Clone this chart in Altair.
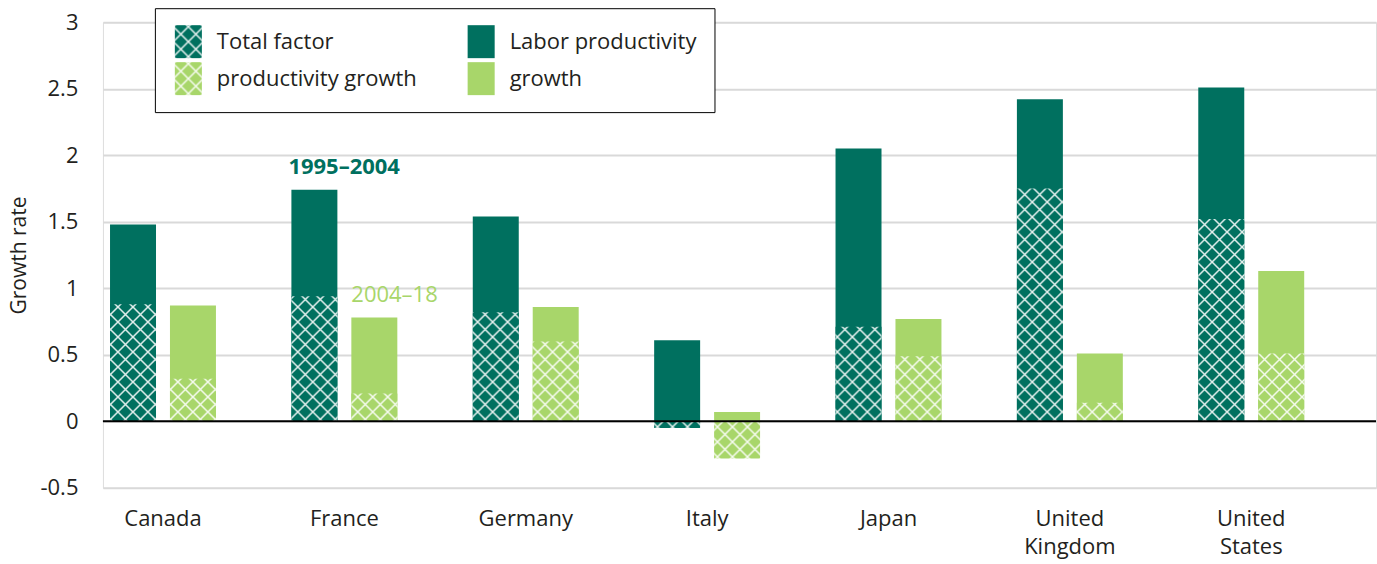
import altair as alt
import pandas as pd
import jinja2

# ---------------- data ----------------
countries = ["Canada", "France", "Germany", "Italy", "Japan", "United Kingdom", "United States"]
periods = ["1995–2004", "2004–18"]
lp_1995_2004 = [1.48, 1.74, 1.54, 0.61, 2.05, 2.42, 2.51]
tfp_1995_2004 = [0.88, 0.94, 0.82, -0.05, 0.71, 1.75, 1.52]
lp_2004_18 = [0.87, 0.78, 0.86, 0.07, 0.77, 0.51, 1.13]
tfp_2004_18 = [0.32, 0.21, 0.60, -0.28, 0.49, 0.14, 0.51]
y_ticks = [-0.5, 0, 0.5, 1, 1.5, 2, 2.5, 3]

DARK = "#00705f"
LIGHT = "#a8d66a"
TEXT = "#231f20"
FONT = "Open Sans"

rows = []
for i, c in enumerate(countries):
    rows.append(dict(country=c, period=periods[0], measure="lp", value=lp_1995_2004[i], key="lp_dark"))
    rows.append(dict(country=c, period=periods[1], measure="lp", value=lp_2004_18[i], key="lp_light"))
    rows.append(dict(country=c, period=periods[0], measure="tfp", value=tfp_1995_2004[i], key="tfp_dark"))
    rows.append(dict(country=c, period=periods[1], measure="tfp", value=tfp_2004_18[i], key="tfp_light"))
df = pd.DataFrame(rows)

ann = pd.DataFrame({
    "country": ["France", "France"],
    "period": periods,
    "value": [lp_1995_2004[1], lp_2004_18[1]],
    "label": periods,
})
zero = pd.DataFrame({"value": [0]})

x_enc = alt.X(
    "country:N", sort=countries,
    scale=alt.Scale(paddingInner=0.416, paddingOuter=0.2175, align=0.09),
    axis=alt.Axis(title=None, labelAngle=0, ticks=False, domain=False,
                  labelFontSize=22, labelColor=TEXT, labelFont=FONT,
                  labelPadding=21, labelLineHeight=28,
                  labelExpr="split(datum.value, ' ')"),
)
xo_enc = alt.XOffset("period:N", sort=periods, scale=alt.Scale(paddingInner=0.233, paddingOuter=0))
y_enc = alt.Y(
    "value:Q", scale=alt.Scale(domain=[-0.5, 3], nice=False, zero=False),
    axis=alt.Axis(values=y_ticks, title="Growth rate", labelExpr="'' + datum.value",
                  grid=True, gridColor="#d9d9d9", gridWidth=2, domain=False, ticks=False,
                  labelPadding=25, labelFontSize=22, labelColor=TEXT, labelFont=FONT,
                  titleFontSize=21, titleFont=FONT, titleColor=TEXT, titleFontWeight="normal",
                  titlePadding=10),
)

lbl_expr = ("datum.value == 'tfp_dark' ? 'Total factor' : "
            "datum.value == 'lp_dark' ? 'Labor productivity' : "
            "datum.value == 'tfp_light' ? 'productivity growth' : 'growth'")

fill_enc = alt.Fill(
    "key:N",
    scale=alt.Scale(domain=["tfp_dark", "tfp_light", "lp_dark", "lp_light"],
                    range=["url(#hatchDark)", "url(#hatchLight)", DARK, LIGHT]),
    legend=alt.Legend(orient="none", legendX=52, legendY=-14, columns=2, title=None,
                      symbolType="M-0.82,-1L0.82,-1L0.82,1L-0.82,1Z", symbolSize=1089,
                      symbolStrokeWidth=0, symbolOpacity=1,
                      labelExpr=lbl_expr, labelFont=FONT, labelFontSize=22, labelColor=TEXT,
                      labelOffset=12, labelLimit=400,
                      strokeColor="black", fillColor="white", padding=17,
                      rowPadding=4, columnPadding=47),
)

base = alt.Chart(df)
lp_bars = base.transform_filter("datum.measure == 'lp'").mark_bar().encode(
    x=x_enc, xOffset=xo_enc, y=y_enc, fill=fill_enc)
tfp_bars = base.transform_filter("datum.measure == 'tfp'").mark_bar().encode(
    x=x_enc, xOffset=xo_enc, y=y_enc, fill=fill_enc)

zero_rule = alt.Chart(zero).mark_rule(color="black", strokeWidth=2).encode(y=y_enc)

ann_dark = alt.Chart(ann).transform_filter("datum.period == '1995–2004'").mark_text(
    align="left", baseline="middle", dx=-26, dy=-23, font=FONT, fontSize=22,
    fontWeight="bold", color=DARK).encode(x=x_enc, xOffset=xo_enc, y=y_enc, text="label:N")
ann_light = alt.Chart(ann).transform_filter("datum.period == '2004–18'").mark_text(
    align="left", baseline="middle", dx=-23, dy=-23, font=FONT, fontSize=22,
    color=LIGHT).encode(x=x_enc, xOffset=xo_enc, y=y_enc, text="label:N")

chart = alt.layer(lp_bars, tfp_bars, zero_rule, ann_dark, ann_light).properties(
    width=1274, height=466,
    padding={"left": 8, "top": 7, "right": 0, "bottom": 8},
).configure_view(stroke=None).configure(font=FONT)

TEMPLATE = jinja2.Template("""<!DOCTYPE html>
<html>
<head>
  <meta charset="utf-8">
  <style>
    body { margin: 0; }
    #{{ output_div }}.vega-embed { width: 100%; display: flex; }
    #{{ output_div }}.vega-embed details,
    #{{ output_div }}.vega-embed details summary { position: relative; }
  </style>
  <script type="text/javascript" src="{{ base_url or 'https://cdn.jsdelivr.net/npm' }}/vega@{{ vega_version }}"></script>
  <script type="text/javascript" src="{{ base_url or 'https://cdn.jsdelivr.net/npm' }}/vega-lite@{{ vegalite_version }}"></script>
  <script type="text/javascript" src="{{ base_url or 'https://cdn.jsdelivr.net/npm' }}/vega-embed@{{ vegaembed_version }}"></script>
</head>
<body>
  <svg width="0" height="0" style="position:absolute">
    <defs>
      <pattern id="hatchDark" patternUnits="userSpaceOnUse" width="15" height="15">
        <rect width="15" height="15" fill="#00705f"/>
        <path d="M0,0L15,15M15,0L0,15" stroke="#ffffff" stroke-width="1.5" stroke-opacity="0.9"/>
      </pattern>
      <pattern id="hatchLight" patternUnits="userSpaceOnUse" width="15" height="15">
        <rect width="15" height="15" fill="#a8d66a"/>
        <path d="M0,0L15,15M15,0L0,15" stroke="#ffffff" stroke-width="1.5" stroke-opacity="0.9"/>
      </pattern>
    </defs>
  </svg>
  <div id="{{ output_div }}"></div>
  <script type="text/javascript">
    (function(vegaEmbed) {
      var spec = {{ spec }};
      var embedOpt = {{ embed_options }};
      function showError(el, error){
        el.innerHTML = ('<div style="color:red;"><p>JavaScript Error: ' + error.message + '</p></div>');
        throw error;
      }
      const el = document.getElementById('{{ output_div }}');
      vegaEmbed("#{{ output_div }}", spec, embedOpt).catch(error => showError(el, error));
    })(vegaEmbed);
  </script>
</body>
</html>
""")

chart.save("out.html", embed_options={"renderer": "svg", "actions": False}, template=TEMPLATE)
